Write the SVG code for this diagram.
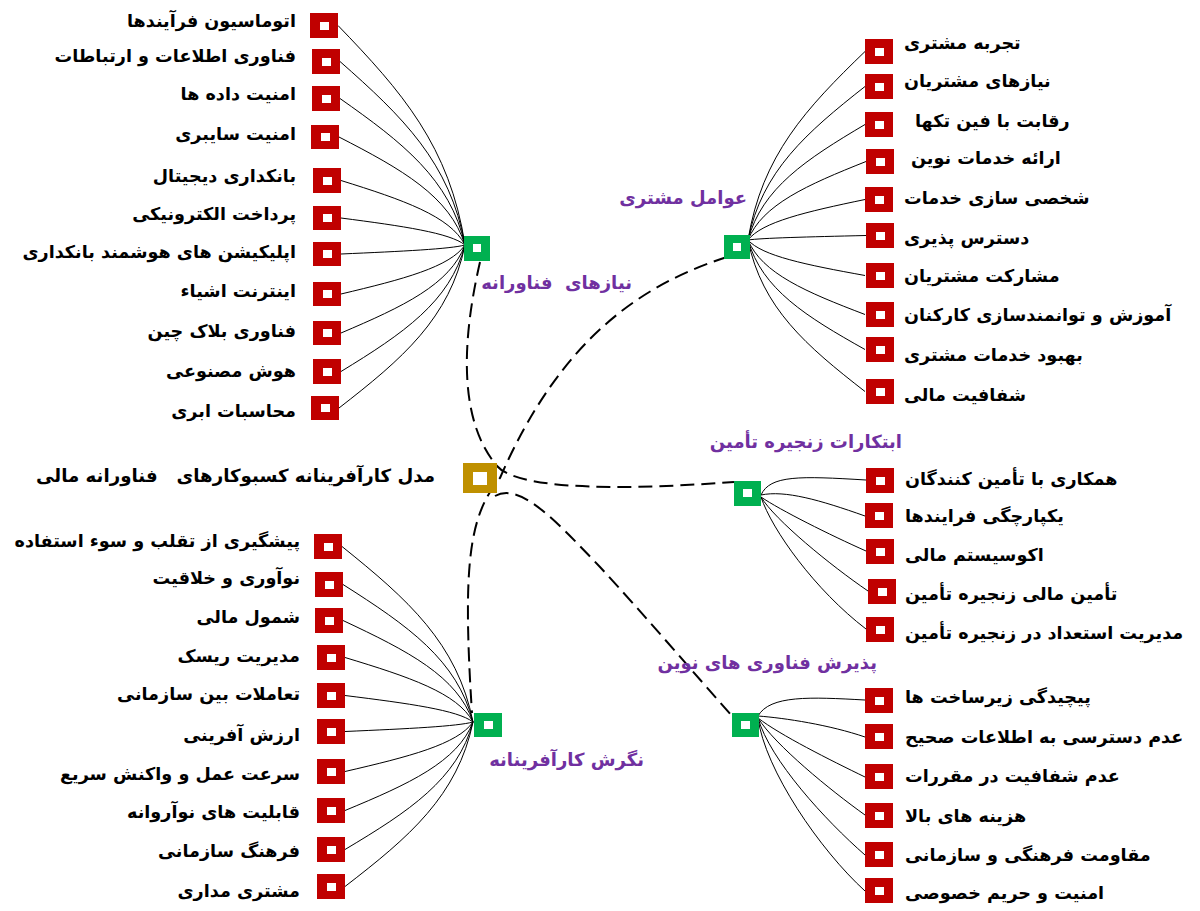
<svg xmlns="http://www.w3.org/2000/svg" width="1200" height="911" viewBox="0 0 1200 911">
<style>
.t{font-family:"DejaVu Sans",sans-serif;font-weight:bold;font-size:17.6px;fill:#000}
.l{text-anchor:end}
.r{text-anchor:start}
.p{font-family:"DejaVu Sans",sans-serif;font-weight:bold;font-size:18px;fill:#7030A0;text-anchor:end;white-space:pre}
.c{font-family:"DejaVu Sans",sans-serif;font-weight:bold;font-size:18.2px;fill:#000;text-anchor:end;white-space:pre}
.red{fill:#C00000}
.grn{fill:#00B050}
.gld{fill:#BF9000}
.in{fill:#fff}
.sl{fill:none;stroke:#000;stroke-width:1}
.dl{fill:none;stroke:#000;stroke-width:2;stroke-dasharray:14 7}
</style>
<rect width="1200" height="911" fill="#fff"/>
<g id="connectors">
<path class="dl" d="M480,262 C462,340 458,420 497,466 C515,487 600,492 734,482"/>
<path class="dl" d="M727,257 C640,285 560,340 500,478 C470,515 462,560 472,713"/>
<path class="dl" d="M495,496 C520,482 555,520 600,567 C640,610 700,680 732,716"/>
<path class="sl" d="M465,245 C449.8,146.2 401.5,91.3 338,25.5"/>
<path class="sl" d="M465,245 C450,162.4 402.5,116.6 340,61.5"/>
<path class="sl" d="M465,245 C450,179.1 402.5,142.5 340,98.5"/>
<path class="sl" d="M465,245 C449.9,196.4 402,169.4 339,137"/>
<path class="sl" d="M465,245 C450.1,216 403,199.9 341,180.5"/>
<path class="sl" d="M465,245 C450.1,232.9 403,226.1 341,218"/>
<path class="sl" d="M465,245 C450.1,249 403,251.3 341,254"/>
<path class="sl" d="M465,245 C450.1,267 403,279.3 341,294"/>
<path class="sl" d="M465,245 C450.1,284.6 403,306.6 341,333"/>
<path class="sl" d="M465,245 C450.1,301.9 403,333.6 341,371.5"/>
<path class="sl" d="M465,245 C449.9,318.4 402,359.1 339,408"/>
<path class="sl" d="M748,240 C762,155.2 806.5,108 865,51.5"/>
<path class="sl" d="M748,240 C762,170.9 806.5,132.6 865,86.5"/>
<path class="sl" d="M748,240 C762,188 806.5,159.2 865,124.5"/>
<path class="sl" d="M748,240 C762.2,204.7 807,185 866,161.5"/>
<path class="sl" d="M748,240 C762,221.8 806.5,211.7 865,199.5"/>
<path class="sl" d="M748,240 C762,238 807,236.9 866,235.5"/>
<path class="sl" d="M748,240 C762,256 806.5,264.9 865,275.5"/>
<path class="sl" d="M748,240 C762,273.5 806.5,292.2 865,314.5"/>
<path class="sl" d="M748,240 C762,289.3 806.5,316.7 865,349.5"/>
<path class="sl" d="M748,240 C762,308.2 806.5,346 865,391.5"/>
<path class="sl" d="M473,722 C457.3,643 407.5,599.2 342,546.5"/>
<path class="sl" d="M473,722 C457.4,660.1 408,625.8 343,584.5"/>
<path class="sl" d="M473,722 C457.4,676.3 408,651 343,620.5"/>
<path class="sl" d="M473,722 C457.6,693 409,676.9 345,657.5"/>
<path class="sl" d="M473,722 C457.6,710.1 409,703.5 345,695.5"/>
<path class="sl" d="M473,722 C457.6,726.3 409,728.7 345,731.5"/>
<path class="sl" d="M473,722 C457.6,744.3 409,756.7 345,771.5"/>
<path class="sl" d="M473,722 C457.6,761.8 409,784 345,810.5"/>
<path class="sl" d="M473,722 C457.6,779.4 409,811.3 345,849.5"/>
<path class="sl" d="M473,722 C457.6,796 409,837.2 345,886.5"/>
<path class="sl" d="M761,495 C770,475 800,476 866,480"/>
<path class="sl" d="M761,495 C785,490 820,500 865,516"/>
<path class="sl" d="M761,497 C780,510 830,535 866,551"/>
<path class="sl" d="M761,497 C775,520 830,565 868,591"/>
<path class="sl" d="M761,497 C772,530 815,590 866,629"/>
<path class="sl" d="M758,716 C770,695 810,697 865,700"/>
<path class="sl" d="M758,716 C785,718 830,725 865,737"/>
<path class="sl" d="M758,718 C780,735 830,760 865,777"/>
<path class="sl" d="M758,718 C775,745 830,790 865,815"/>
<path class="sl" d="M758,718 C770,760 825,820 865,855"/>
<path class="sl" d="M758,718 C765,770 820,850 865,891"/>
</g>
<g id="center"><rect class="gld" x="463" y="463" width="34" height="30"/><rect class="in" x="473" y="472" width="14" height="13"/><text class="c" x="435" y="482">مدل کارآفرینانه کسبوکارهای   فناورانه مالی</text></g>
<g id="hub-tech"><rect class="grn" x="464" y="236" width="26" height="25"/><rect class="in" x="473" y="244" width="8" height="8"/><text class="p" x="632" y="289">نیازهای  فناورانه</text></g>
<g id="hub-customer"><rect class="grn" x="724" y="235" width="26" height="24"/><rect class="in" x="733" y="243" width="8" height="8"/><text class="p" x="747" y="204">عوامل مشتری</text></g>
<g id="hub-supply"><rect class="grn" x="734" y="481" width="27" height="25"/><rect class="in" x="743" y="489" width="9" height="8"/><text class="p" x="902" y="448">ابتکارات زنجیره تأمین</text></g>
<g id="hub-adopt"><rect class="grn" x="732" y="713" width="27" height="24"/><rect class="in" x="741" y="721" width="9" height="8"/><text class="p" x="877" y="669">پذیرش فناوری های نوین</text></g>
<g id="hub-entre"><rect class="grn" x="474" y="713" width="28" height="24"/><rect class="in" x="484" y="721" width="9" height="8"/><text class="p" x="644" y="766">نگرش کارآفرینانه</text></g>
<g id="t1"><rect class="red" x="310" y="13" width="28" height="25"/><rect class="in" x="320" y="22" width="9" height="8"/><text class="t l" x="296" y="27">اتوماسیون فرآیندها</text></g>
<g id="t2"><rect class="red" x="312" y="49" width="28" height="25"/><rect class="in" x="322" y="58" width="9" height="8"/><text class="t l" x="296" y="62">فناوری اطلاعات و ارتباطات</text></g>
<g id="t3"><rect class="red" x="312" y="86" width="28" height="25"/><rect class="in" x="322" y="95" width="9" height="8"/><text class="t l" x="296" y="100">امنیت داده ها</text></g>
<g id="t4"><rect class="red" x="311" y="125" width="28" height="24"/><rect class="in" x="321" y="133" width="9" height="8"/><text class="t l" x="296" y="140">امنیت سایبری</text></g>
<g id="t5"><rect class="red" x="313" y="168" width="28" height="25"/><rect class="in" x="323" y="177" width="9" height="8"/><text class="t l" x="296" y="182">بانکداری دیجیتال</text></g>
<g id="t6"><rect class="red" x="313" y="206" width="28" height="24"/><rect class="in" x="323" y="214" width="9" height="8"/><text class="t l" x="296" y="220">پرداخت الکترونیکی</text></g>
<g id="t7"><rect class="red" x="313" y="242" width="28" height="24"/><rect class="in" x="323" y="250" width="9" height="8"/><text class="t l" x="296" y="258">اپلیکیشن های هوشمند بانکداری</text></g>
<g id="t8"><rect class="red" x="313" y="282" width="28" height="24"/><rect class="in" x="323" y="290" width="9" height="8"/><text class="t l" x="296" y="297">اینترنت اشیاء</text></g>
<g id="t9"><rect class="red" x="313" y="321" width="28" height="24"/><rect class="in" x="323" y="329" width="9" height="8"/><text class="t l" x="296" y="337">فناوری بلاک چین</text></g>
<g id="t10"><rect class="red" x="313" y="359" width="28" height="25"/><rect class="in" x="323" y="368" width="9" height="8"/><text class="t l" x="296" y="377">هوش مصنوعی</text></g>
<g id="t11"><rect class="red" x="311" y="396" width="28" height="24"/><rect class="in" x="321" y="404" width="9" height="8"/><text class="t l" x="296" y="417">محاسبات ابری</text></g>
<g id="c1"><rect class="red" x="865" y="39" width="28" height="25"/><rect class="in" x="875" y="48" width="9" height="8"/><text class="t r" x="904" y="49">تجربه مشتری</text></g>
<g id="c2"><rect class="red" x="865" y="74" width="28" height="25"/><rect class="in" x="875" y="83" width="9" height="8"/><text class="t r" x="904" y="87">نیازهای مشتریان</text></g>
<g id="c3"><rect class="red" x="865" y="112" width="28" height="25"/><rect class="in" x="875" y="121" width="9" height="8"/><text class="t r" x="915" y="127">رقابت با فین تکها</text></g>
<g id="c4"><rect class="red" x="866" y="149" width="28" height="25"/><rect class="in" x="876" y="158" width="9" height="8"/><text class="t r" x="911" y="164">ارائه خدمات نوین</text></g>
<g id="c5"><rect class="red" x="865" y="187" width="28" height="25"/><rect class="in" x="875" y="196" width="9" height="8"/><text class="t r" x="904" y="204">شخصی سازی خدمات</text></g>
<g id="c6"><rect class="red" x="866" y="223" width="28" height="25"/><rect class="in" x="876" y="232" width="9" height="8"/><text class="t r" x="904" y="244">دسترس پذیری</text></g>
<g id="c7"><rect class="red" x="866" y="263" width="28" height="25"/><rect class="in" x="876" y="272" width="9" height="8"/><text class="t r" x="904" y="282">مشارکت مشتریان</text></g>
<g id="c8"><rect class="red" x="866" y="302" width="28" height="25"/><rect class="in" x="876" y="311" width="9" height="8"/><text class="t r" x="904" y="321">آموزش و توانمندسازی کارکنان</text></g>
<g id="c9"><rect class="red" x="866" y="337" width="28" height="25"/><rect class="in" x="876" y="346" width="9" height="8"/><text class="t r" x="904" y="361">بهبود خدمات مشتری</text></g>
<g id="c10"><rect class="red" x="866" y="379" width="28" height="25"/><rect class="in" x="876" y="388" width="9" height="8"/><text class="t r" x="904" y="401">شفافیت مالی</text></g>
<g id="s1"><rect class="red" x="866" y="468" width="28" height="25"/><rect class="in" x="876" y="477" width="9" height="8"/><text class="t r" x="905" y="485">همکاری با تأمین کنندگان</text></g>
<g id="s2"><rect class="red" x="865" y="503" width="28" height="25"/><rect class="in" x="875" y="512" width="9" height="8"/><text class="t r" x="905" y="522">یکپارچگی فرایندها</text></g>
<g id="s3"><rect class="red" x="866" y="539" width="28" height="25"/><rect class="in" x="876" y="548" width="9" height="8"/><text class="t r" x="905" y="561">اکوسیستم مالی</text></g>
<g id="s4"><rect class="red" x="868" y="579" width="28" height="25"/><rect class="in" x="878" y="588" width="9" height="8"/><text class="t r" x="905" y="600">تأمین مالی زنجیره تأمین</text></g>
<g id="s5"><rect class="red" x="866" y="617" width="28" height="25"/><rect class="in" x="876" y="626" width="9" height="8"/><text class="t r" x="905" y="639">مدیریت استعداد در زنجیره تأمین</text></g>
<g id="a1"><rect class="red" x="865" y="688" width="28" height="25"/><rect class="in" x="875" y="697" width="9" height="8"/><text class="t r" x="905" y="703">پیچیدگی زیرساخت ها</text></g>
<g id="a2"><rect class="red" x="865" y="724" width="28" height="25"/><rect class="in" x="875" y="733" width="9" height="8"/><text class="t r" x="905" y="743">عدم دسترسی به اطلاعات صحیح</text></g>
<g id="a3"><rect class="red" x="865" y="764" width="28" height="25"/><rect class="in" x="875" y="773" width="9" height="8"/><text class="t r" x="905" y="782">عدم شفافیت در مقررات</text></g>
<g id="a4"><rect class="red" x="865" y="803" width="28" height="25"/><rect class="in" x="875" y="812" width="9" height="8"/><text class="t r" x="905" y="822">هزینه های بالا</text></g>
<g id="a5"><rect class="red" x="865" y="842" width="28" height="25"/><rect class="in" x="875" y="851" width="9" height="8"/><text class="t r" x="905" y="861">مقاومت فرهنگی و سازمانی</text></g>
<g id="a6"><rect class="red" x="865" y="878" width="28" height="25"/><rect class="in" x="875" y="887" width="9" height="8"/><text class="t r" x="905" y="899">امنیت و حریم خصوصی</text></g>
<g id="e1"><rect class="red" x="314" y="534" width="28" height="25"/><rect class="in" x="324" y="543" width="9" height="8"/><text class="t l" x="300" y="547">پیشگیری از تقلب و سوء استفاده</text></g>
<g id="e2"><rect class="red" x="315" y="572" width="28" height="25"/><rect class="in" x="325" y="581" width="9" height="8"/><text class="t l" x="300" y="584">نوآوری و خلاقیت</text></g>
<g id="e3"><rect class="red" x="315" y="608" width="28" height="25"/><rect class="in" x="325" y="617" width="9" height="8"/><text class="t l" x="300" y="623">شمول مالی</text></g>
<g id="e4"><rect class="red" x="317" y="645" width="28" height="25"/><rect class="in" x="327" y="654" width="9" height="8"/><text class="t l" x="300" y="662">مدیریت ریسک</text></g>
<g id="e5"><rect class="red" x="317" y="683" width="28" height="25"/><rect class="in" x="327" y="692" width="9" height="8"/><text class="t l" x="300" y="700">تعاملات بین سازمانی</text></g>
<g id="e6"><rect class="red" x="317" y="719" width="28" height="25"/><rect class="in" x="327" y="728" width="9" height="8"/><text class="t l" x="300" y="741">ارزش آفرینی</text></g>
<g id="e7"><rect class="red" x="317" y="759" width="28" height="25"/><rect class="in" x="327" y="768" width="9" height="8"/><text class="t l" x="300" y="780">سرعت عمل و واکنش سریع</text></g>
<g id="e8"><rect class="red" x="317" y="798" width="28" height="25"/><rect class="in" x="327" y="807" width="9" height="8"/><text class="t l" x="300" y="818">قابلیت های نوآروانه</text></g>
<g id="e9"><rect class="red" x="317" y="837" width="28" height="25"/><rect class="in" x="327" y="846" width="9" height="8"/><text class="t l" x="300" y="857">فرهنگ سازمانی</text></g>
<g id="e10"><rect class="red" x="317" y="874" width="28" height="25"/><rect class="in" x="327" y="883" width="9" height="8"/><text class="t l" x="300" y="897">مشتری مداری</text></g>
</svg>
